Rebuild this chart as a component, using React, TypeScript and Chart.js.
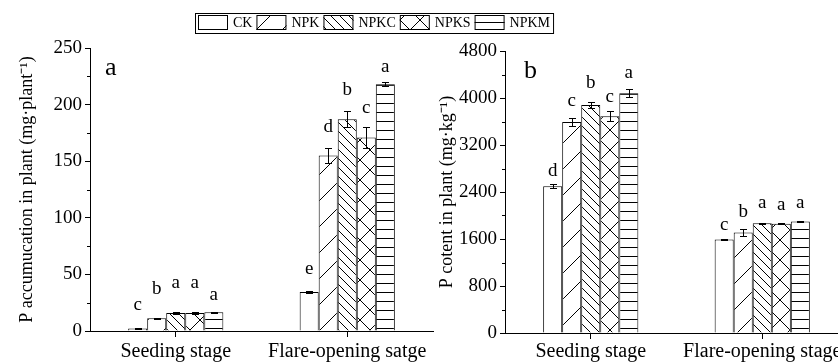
import React, { useEffect, useRef } from 'react';
import { Chart, registerables } from 'chart.js';

Chart.register(...registerables);

const FONT = "'Liberation Serif', 'Times New Roman', serif";

const seriesNames = ['CK', 'NPK', 'NPKC', 'NPKS', 'NPKM'];
const categoriesA = ['Seeding stage', 'Flare-opening satge'];
const categoriesB = ['Seeding stage', 'Flare-opening stage'];

// Panel a: P accumulation in plant (mg·plant-1); rows = series, cols = stages
const accumMeans = [[2.2, 34.5], [11.2, 155], [15.8, 187], [16, 171], [16.5, 218]];
const accumErrors = [[0.3, 1], [0.5, 7], [0.6, 7], [0.6, 9], [0.7, 2]];
const accumLetters = [['c', 'e'], ['b', 'd'], ['a', 'b'], ['a', 'c'], ['a', 'a']];
const accumLetterY = [[23, 55], [37, 180], [42, 213], [42, 197], [32, 233]];
const accumTicks = { min: 0, max: 250, step: 50 };

// Panel b: P content in plant (mg·kg-1)
const contentMeans = [[2500, 1590], [3590, 1710], [3880, 1870], [3690, 1860], [4080, 1900]];
const contentErrors = [[40, 15], [75, 60], [50, 10], [85, 10], [70, 8]];
const contentLetters = [['d', 'c'], ['c', 'b'], ['b', 'a'], ['c', 'a'], ['a', 'a']];
const contentLetterY = [[2757, 1838], [3954, 2065], [4250, 2208], [4022, 2179], [4420, 2208]];
const contentTicks = { min: 0, max: 4800, step: 800 };

function makeTile(size: number, draw: (g: CanvasRenderingContext2D, s: number) => void) {
  const c = document.createElement('canvas');
  c.width = size;
  c.height = size;
  const g = c.getContext('2d') as CanvasRenderingContext2D;
  g.fillStyle = '#ffffff';
  g.fillRect(0, 0, size, size);
  g.strokeStyle = '#000000';
  g.lineWidth = 1;
  draw(g, size);
  return c;
}

function makePatterns(ctx: CanvasRenderingContext2D): (string | CanvasPattern)[] {
  const up = makeTile(26, (g, s) => {
    g.beginPath();
    g.moveTo(-2, s + 2); g.lineTo(s + 2, -2);
    g.moveTo(-2, 2); g.lineTo(2, -2);
    g.moveTo(s - 2, s + 2); g.lineTo(s + 2, s - 2);
    g.stroke();
  });
  const down = makeTile(9, (g, s) => {
    g.beginPath();
    g.moveTo(-2, -2); g.lineTo(s + 2, s + 2);
    g.moveTo(s - 2, -2); g.lineTo(s + 2, 2);
    g.moveTo(-2, s - 2); g.lineTo(2, s + 2);
    g.stroke();
  });
  const cross = makeTile(20, (g, s) => {
    g.beginPath();
    g.moveTo(-2, -2); g.lineTo(s + 2, s + 2);
    g.moveTo(-2, s + 2); g.lineTo(s + 2, -2);
    g.stroke();
  });
  const horiz = makeTile(9, (g, s) => {
    g.beginPath();
    g.moveTo(0, 4.5); g.lineTo(s, 4.5);
    g.stroke();
  });
  return [
    '#ffffff',
    ctx.createPattern(up, 'repeat') as CanvasPattern,
    ctx.createPattern(down, 'repeat') as CanvasPattern,
    ctx.createPattern(cross, 'repeat') as CanvasPattern,
    ctx.createPattern(horiz, 'repeat') as CanvasPattern,
  ];
}

function overlayPlugin(
  errors: number[][],
  letters: string[][],
  letterY: number[][],
  panel: string,
  panelDx: number,
  majorStep: number
) {
  return {
    id: 'overlay',
    afterDatasetsDraw(chart: any) {
      const ctx: CanvasRenderingContext2D = chart.ctx;
      const y = chart.scales.y;
      ctx.save();
      ctx.strokeStyle = '#000';
      ctx.lineWidth = 1;
      chart.data.datasets.forEach((ds: any, di: number) => {
        const meta = chart.getDatasetMeta(di);
        meta.data.forEach((bar: any, i: number) => {
          const v = ds.data[i];
          const e = errors[di][i];
          const x = Math.round(bar.x) + 0.5;
          const yt = Math.round(y.getPixelForValue(v + e)) + 0.5;
          const yb = Math.round(y.getPixelForValue(v - e)) + 0.5;
          ctx.beginPath();
          ctx.moveTo(x, yt); ctx.lineTo(x, yb);
          ctx.moveTo(x - 3.5, yt); ctx.lineTo(x + 3.5, yt);
          ctx.moveTo(x - 3.5, yb); ctx.lineTo(x + 3.5, yb);
          ctx.stroke();
          ctx.fillStyle = '#000';
          ctx.font = `19px ${FONT}`;
          ctx.textAlign = 'center';
          ctx.textBaseline = 'middle';
          ctx.fillText(letters[di][i], bar.x, y.getPixelForValue(letterY[di][i]));
        });
      });
      // minor ticks on y axis
      ctx.beginPath();
      for (let v = y.min + majorStep / 2; v < y.max; v += majorStep) {
        const py = Math.round(y.getPixelForValue(v)) + 0.5;
        ctx.moveTo(y.right - 3, py);
        ctx.lineTo(y.right, py);
      }
      ctx.stroke();
      // panel letter
      ctx.fillStyle = '#000';
      ctx.font = `26px ${FONT}`;
      ctx.textAlign = 'left';
      ctx.textBaseline = 'alphabetic';
      ctx.fillText(panel, chart.chartArea.left + panelDx, chart.chartArea.top + 27);
      ctx.restore();
    },
  };
}

const legendPlugin = {
  id: 'boxLegend',
  afterDraw(chart: any) {
    const ctx: CanvasRenderingContext2D = chart.ctx;
    ctx.save();
    ctx.font = `14px ${FONT}`;
    ctx.strokeStyle = '#000';
    ctx.lineWidth = 1;
    const left = 195;
    const top = 13;
    const bottom = 33;
    let x = left + 3;
    chart.data.datasets.forEach((ds: any) => {
      ctx.fillStyle = ds.backgroundColor;
      ctx.fillRect(x, 15, 30, 15);
      ctx.strokeRect(x + 0.5, 15.5, 29, 14);
      x += 35;
      ctx.fillStyle = '#000';
      ctx.textAlign = 'left';
      ctx.textBaseline = 'middle';
      ctx.fillText(ds.label, x, 23.5);
      x += ctx.measureText(ds.label).width + 4;
    });
    ctx.strokeRect(left + 0.5, top + 0.5, x - 1 - left, bottom - top);
    ctx.restore();
  },
};

function buildConfig(
  ctx: CanvasRenderingContext2D,
  categories: string[],
  means: number[][],
  ticks: { min: number; max: number; step: number },
  title: string,
  padTop: number,
  padRight: number,
  yWidth: number,
  xHeight: number,
  xPad: number,
  plugins: any[]
): any {
  const patterns = makePatterns(ctx);
  return {
    type: 'bar',
    data: {
      labels: categories,
      datasets: seriesNames.map((name, i) => ({
        label: name,
        data: means[i],
        backgroundColor: patterns[i],
        borderColor: '#000',
        borderWidth: 1,
      })),
    },
    options: {
      responsive: false,
      animation: false,
      layout: { padding: { top: padTop, right: padRight, left: 0, bottom: 0 } },
      plugins: { legend: { display: false }, tooltip: { enabled: false } },
      datasets: { bar: { categoryPercentage: 0.555, barPercentage: 1 } },
      scales: {
        x: {
          type: 'category',
          offset: true,
          grid: { offset: false, drawOnChartArea: false, tickLength: 6, color: '#000' },
          border: { color: '#000', width: 1 },
          ticks: { color: '#000', font: { family: FONT, size: 20 }, padding: xPad, maxRotation: 0, autoSkip: false },
          afterFit: (s: any) => { s.height = xHeight; },
        },
        y: {
          min: ticks.min,
          max: ticks.max,
          ticks: {
            stepSize: ticks.step,
            color: '#000',
            font: { family: FONT, size: 19 },
            padding: 3,
            callback: (v: any) => String(v),
          },
          grid: { drawOnChartArea: false, tickLength: 5, color: '#000' },
          border: { color: '#000', width: 1 },
          title: {
            display: true,
            text: title,
            color: '#000',
            font: { family: FONT, size: 18 },
            padding: { top: 16, bottom: 0 },
          },
          afterFit: (s: any) => { s.width = yWidth; },
        },
      },
    },
    plugins,
  };
}

export default function App() {
  const refA = useRef<HTMLCanvasElement>(null);
  const refB = useRef<HTMLCanvasElement>(null);

  useEffect(() => {
    document.body.style.margin = '0';
    const ca = refA.current!;
    const cb = refB.current!;
    const ctxA = ca.getContext('2d') as CanvasRenderingContext2D;
    const ctxB = cb.getContext('2d') as CanvasRenderingContext2D;
    const chartB = new Chart(
      cb,
      buildConfig(ctxB, categoriesB, contentMeans, contentTicks, 'P cotent in plant (mg·kg⁻¹)', 51, 12, 85, 29, 1, [
        overlayPlugin(contentErrors, contentLetters, contentLetterY, 'b', 19, contentTicks.step),
      ])
    );
    const chartA = new Chart(
      ca,
      buildConfig(ctxA, categoriesA, accumMeans, accumTicks, 'P accumucation in plant (mg·plant⁻¹)', 48, 127, 90, 31, 3, [
        overlayPlugin(accumErrors, accumLetters, accumLetterY, 'a', 15, accumTicks.step),
        legendPlugin,
      ])
    );
    return () => {
      chartA.destroy();
      chartB.destroy();
    };
  }, []);

  return (
    <div style={{ position: 'relative', width: 838, height: 362, overflow: 'hidden', background: '#ffffff' }}>
      <canvas ref={refB} width={440} height={362} style={{ position: 'absolute', left: 420, top: 0 }} />
      <canvas ref={refA} width={560} height={362} style={{ position: 'absolute', left: 0, top: 0 }} />
    </div>
  );
}
